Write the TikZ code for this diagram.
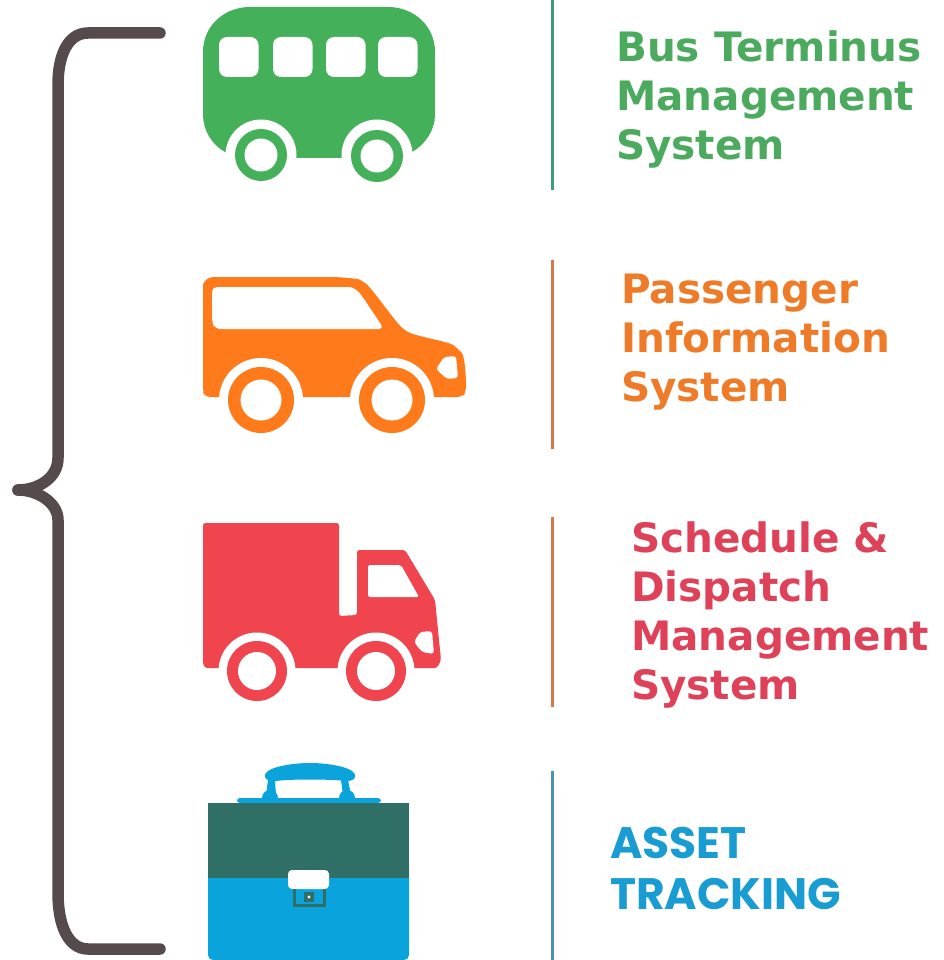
\documentclass[tikz,border=0pt]{standalone}
\usepackage{fontspec}
\setmainfont{DejaVu Sans}
\newfontfamily\assetfont{Poppins}
\definecolor{busgreen}{HTML}{44B05A}
\definecolor{carorange}{HTML}{FF7A1A}
\definecolor{carlabel}{HTML}{EF7B28}
\definecolor{truckred}{HTML}{F0444F}
\definecolor{trucklabel}{HTML}{DF4258}
\definecolor{buslabel}{HTML}{4BAA5E}
\definecolor{casedark}{HTML}{2F6F66}
\definecolor{caseblue}{HTML}{0AA3DC}
\definecolor{assetlabel}{HTML}{189CD2}
\definecolor{bracegray}{HTML}{554A4C}
\definecolor{ruleteal}{HTML}{3F9A7C}
\definecolor{ruleorange}{HTML}{D2784F}
\definecolor{ruleblue}{HTML}{4A93AE}
\tikzset{
  titletext/.style={anchor=north west,align=left,font=\bfseries\fontsize{40.5}{49}\selectfont,inner sep=0pt},
  assettext/.style={anchor=north west,align=left,font=\assetfont\bfseries\fontsize{44}{51}\selectfont,inner sep=0pt,text=assetlabel},
  rulev/.style={line width=3pt},
  hole/.style={fill=white,draw=none},
}
\begin{document}
\begin{tikzpicture}[x=1pt,y=-1pt]
\useasboundingbox (0,0) rectangle (943,960);
% brace
\draw[bracegray,line width=11.5pt,line cap=round,line join=round]
 (160,33) -- (88,33) .. controls (68,33) and (58,55) .. (58,85) -- (58,458)
 .. controls (58,478) and (38,490) .. (18,490);
\draw[bracegray,line width=11.5pt,line cap=round,line join=round]
 (160,949) -- (88,949) .. controls (68,949) and (58,925) .. (58,893) -- (58,520)
 .. controls (58,503) and (38,490) .. (18,490);
% bus
\fill[busgreen] (203,52) .. controls (203,26) and (224,7) .. (250,7) -- (388,7)
 .. controls (414,7) and (435,26) .. (435,52) -- (435,115)
 .. controls (435,130) and (425,145) .. (412,152) -- (400,158) -- (240,158) -- (225,152)
 .. controls (212,145) and (203,130) .. (203,115) -- cycle;
\fill[hole] (261,155) circle (35.5) (377,155) circle (35.5);
\fill[busgreen] (261,155) circle (26) (377,156) circle (26);
\fill[hole] (261,155) circle (16.5) (377,156) circle (16.5);
\foreach \xa in {219,273,326,378}
  \fill[hole,rounded corners=8pt] (\xa,37) rectangle ++(39.5,40);
% car
\fill[carorange,rounded corners=5pt] (203,290) .. controls (203,282) and (208,277) .. (218,277)
 -- (335,277) .. controls (350,278) and (358,279) .. (363,281)
 .. controls (375,292) and (395,322) .. (407,332)
 .. controls (425,338) and (450,342) .. (458,349)
 .. controls (464,355) and (466,370) .. (466,392) -- (462,397) -- (205,397) -- (203,392) -- cycle;
\fill[hole] (261,400) circle (42) (392,400) circle (42);
\fill[carorange] (261,400) circle (33) (392,400) circle (33);
\fill[hole] (261,400) circle (20.5) (392,400) circle (20.5);
\fill[hole,rounded corners=5pt] (212,287) -- (344,287) .. controls (352,287) and (357,290) .. (362,296)
 -- (384,329) -- (215,329) -- (212,322) -- cycle;
\fill[hole,rounded corners=3pt] (444,357) -- (456,356) -- (458,378) -- (447,379) -- (436,369) -- cycle;
% truck
\fill[truckred,rounded corners=2.5pt] (203,523) -- (339,523) -- (339,616) -- (357,615) -- (357,550) -- (405,550)
 -- (435,600) -- (441,660) -- (437,668) -- (205,668) -- (203,664) -- cycle;
\fill[hole] (257,671) circle (38.5) (376,671) circle (38.5);
\fill[truckred] (257,671) circle (30) (376,671) circle (30);
\fill[hole] (257,671) circle (19) (376,671) circle (19);
\fill[hole,rounded corners=2pt] (368,565) -- (401,565) -- (419,597) -- (368,597) -- cycle;
\fill[hole,rounded corners=3pt] (420,632) -- (432,631) -- (434,654) -- (422,652) -- (414,642) -- cycle;
% briefcase
\fill[caseblue,rounded corners=3pt] (237,803) -- (237,798) -- (381,798) -- (381,803) -- cycle;
\fill[caseblue] (265,777) .. controls (262,768) and (290,763) .. (310,763)
 .. controls (330,763) and (358,768) .. (355,777) .. controls (354,781) and (348,781) .. (346,781)
 .. controls (330,779) and (290,779) .. (276,781) .. controls (272,781) and (266,781) .. (265,777) -- cycle;
\fill[caseblue] (268,780) -- (275,780) -- (276,795) -- (266,795) -- cycle;
\fill[caseblue] (341,780) -- (348,780) -- (351,795) -- (343,795) -- cycle;
\fill[caseblue] (270,798) circle (8) (347,798) circle (8);
\fill[caseblue,rounded corners=5pt] (208,860) rectangle (409,960);
\fill[casedark] (208,803) rectangle (409,878);
\fill[hole,rounded corners=4pt] (288,870) rectangle (329,889);
\draw[casedark,line width=3pt] (294,889) -- (294,905.5) -- (324,905.5) -- (324,889);
\fill[casedark] (304,892) rectangle (314,902);
\fill[white] (309,897) circle (1.6);
% rules
\coordinate (r1a) at (552,0); \coordinate (r1b) at (552,190);
\coordinate (r2a) at (552,260); \coordinate (r2b) at (552,449);
\coordinate (r3a) at (552,517); \coordinate (r3b) at (552,707);
\coordinate (r4a) at (552,771); \coordinate (r4b) at (552,960);
\draw[rulev,ruleteal] (r1a) -- (r1b);
\draw[rulev,ruleorange] (r2a) -- (r2b);
\draw[rulev,ruleorange] (r3a) -- (r3b);
\draw[rulev,ruleblue] (r4a) -- (r4b);
% labels
\node[titletext,text=buslabel] (t1) at (616,31) {Bus Terminus\\Management\\System};
\node[titletext,text=carlabel] (t2) at (621,274) {Passenger\\Information\\System};
\node[titletext,text=trucklabel] (t3) at (631,522) {Schedule \&\\Dispatch\\Management\\System};
\node[assettext] (t4) at (610,827) {ASSET\\TRACKING};
\end{tikzpicture}
\end{document}
